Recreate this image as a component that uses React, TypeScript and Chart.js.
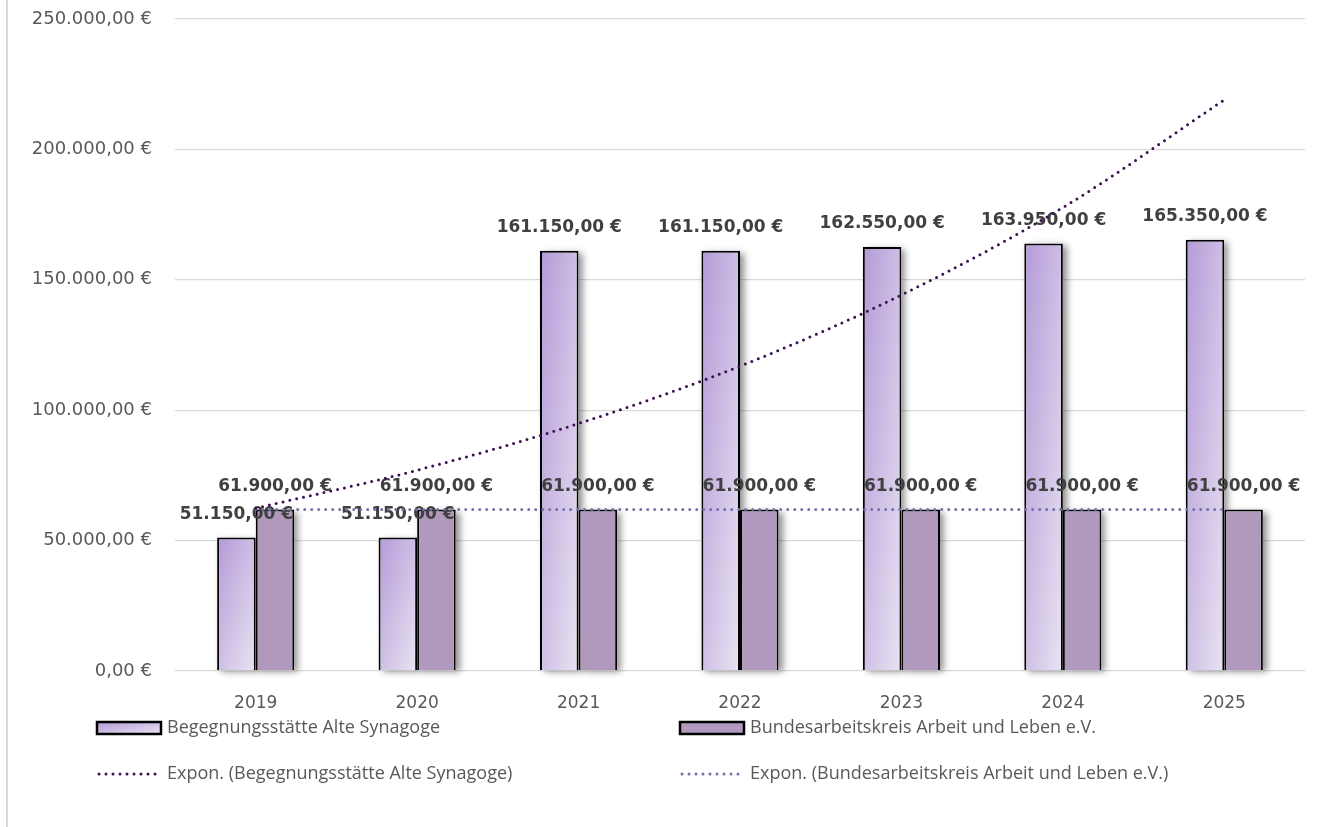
import React, { useEffect, useRef } from "react";
import { Chart, registerables } from "chart.js";

Chart.register(...registerables);

const categories = ["2019", "2020", "2021", "2022", "2023", "2024", "2025"];
const seriesBegegnung = [51150, 51150, 161150, 161150, 162550, 163950, 165350];
const seriesBundes = [61900, 61900, 61900, 61900, 61900, 61900, 61900];
// Exponential trend lines
const trendBegegnung = [62400, 77000, 94900, 116900, 144200, 177700, 219000];
const trendBundes = [61900, 61900, 61900, 61900, 61900, 61900, 61900];
const yMin = 0;
const yMax = 250000;
const yStep = 50000;

const labelBegegnung = "Begegnungsstätte Alte Synagoge";
const labelBundes = "Bundesarbeitskreis Arbeit und Leben e.V.";
const labelTrendBegegnung = "Expon. (Begegnungsstätte Alte Synagoge)";
const labelTrendBundes = "Expon. (Bundesarbeitskreis Arbeit und Leben e.V.)";

const W = 1317;
const H = 827;
const CAT_PCT = 0.478;

const GRAD_START = "#b39ad7";
const GRAD_END = "#e9e3f2";
const BAR2_COLOR = "#b199be";
const TREND1_COLOR = "#3c1053";
const TREND2_COLOR = "#7470ad";
const TEXT_COLOR = "#595959";
const LABEL_COLOR = "#404040";
const GRID_COLOR = "#d9d9d9";

function euro(v: number): string {
  const fixed = v.toFixed(2);
  const [i, d] = fixed.split(".");
  const withDots = i.replace(/\B(?=(\d{3})+(?!\d))/g, ".");
  return withDots + "," + d + " €";
}

function diagGradient(ctx: CanvasRenderingContext2D, left: number, top: number, w: number, h: number): any {
  const k = (2 * w * h) / (h * h + w * w || 1);
  const x1 = left + h * k;
  const y1 = top + w * k;
  if (![left, top, x1, y1].every((n) => Number.isFinite(n))) return GRAD_START;
  const g = ctx.createLinearGradient(left, top, x1, y1);
  g.addColorStop(0, GRAD_START);
  g.addColorStop(1, GRAD_END);
  return g;
}

const shadowPlugin = {
  id: "barShadow",
  beforeDatasetsDraw(chart: any) {
    const ctx = chart.ctx;
    chart.data.datasets.forEach((ds: any, di: number) => {
      if (ds.type !== "bar") return;
      const meta = chart.getDatasetMeta(di);
      meta.data.forEach((el: any) => {
        const left = el.x - el.width / 2;
        const top = Math.min(el.y, el.base);
        const h = Math.abs(el.base - el.y);
        ctx.save();
        ctx.shadowColor = "rgba(0,0,0,0.45)";
        ctx.shadowBlur = 7;
        ctx.shadowOffsetX = 4;
        ctx.shadowOffsetY = 2;
        ctx.fillStyle = "#ffffff";
        ctx.fillRect(left, top, el.width, h);
        ctx.restore();
      });
    });
  },
  afterDatasetDraw(chart: any, args: any) {
    if (args.index !== 0) return;
    const ctx = chart.ctx;
    ctx.save();
    ctx.font = "bold 17px 'DejaVu Sans'";
    ctx.fillStyle = LABEL_COLOR;
    ctx.textAlign = "center";
    ctx.textBaseline = "middle";
    chart.data.datasets.forEach((ds: any, di: number) => {
      if (ds.type !== "bar") return;
      const meta = chart.getDatasetMeta(di);
      meta.data.forEach((el: any, i: number) => {
        ctx.fillText(euro(ds.data[i]), el.x, el.y - 23);
      });
    });
    ctx.restore();
  },
};

const framePlugin = {
  id: "frameAndLegend",
  beforeDraw(chart: any) {
    const ctx = chart.ctx;
    ctx.save();
    ctx.strokeStyle = GRID_COLOR;
    ctx.lineWidth = 2;
    ctx.beginPath();
    ctx.moveTo(7, 0);
    ctx.lineTo(7, H);
    ctx.stroke();
    ctx.restore();
  },
  afterDraw(chart: any) {
    const ctx = chart.ctx;
    ctx.save();
    ctx.font = "18px 'Open Sans'";
    ctx.fillStyle = TEXT_COLOR;
    ctx.textBaseline = "middle";
    ctx.textAlign = "left";
    const row1 = 728;
    const row2 = 774;
    const col1 = 97;
    const col2 = 680;
    const symW = 64;
    const rects = [
      { x: col1, fill: diagGradient(ctx, col1, row1 - 6, symW, 12), text: labelBegegnung },
      { x: col2, fill: BAR2_COLOR, text: labelBundes },
    ];
    rects.forEach((r) => {
      ctx.fillStyle = r.fill as any;
      ctx.fillRect(r.x, row1 - 6, symW, 12);
      ctx.strokeStyle = "#000";
      ctx.lineWidth = 2.5;
      ctx.strokeRect(r.x, row1 - 6, symW, 12);
      ctx.fillStyle = TEXT_COLOR;
      ctx.fillText(r.text, r.x + symW + 6, row1);
    });
    const lines = [
      { x: col1, color: TREND1_COLOR, text: labelTrendBegegnung },
      { x: col2, color: TREND2_COLOR, text: labelTrendBundes },
    ];
    lines.forEach((l) => {
      ctx.strokeStyle = l.color;
      ctx.lineWidth = 3;
      ctx.lineCap = "round";
      ctx.setLineDash([0, 7]);
      ctx.beginPath();
      ctx.moveTo(l.x + 2, row2);
      ctx.lineTo(l.x + 61, row2);
      ctx.stroke();
      ctx.setLineDash([]);
      ctx.fillStyle = TEXT_COLOR;
      ctx.fillText(l.text, l.x + symW + 6, row2);
    });
    ctx.restore();
  },
};

export default function App() {
  const ref = useRef<HTMLCanvasElement | null>(null);

  useEffect(() => {
    if (!ref.current) return;
    const chart = new Chart(ref.current, {
      type: "bar",
      data: {
        labels: categories,
        datasets: [
          {
            type: "bar",
            label: labelBegegnung,
            data: seriesBegegnung,
            order: 1,
            borderColor: "#000000",
            borderWidth: 2,
            categoryPercentage: CAT_PCT,
            barPercentage: 1,
            backgroundColor: (c: any) => {
              if (c.type !== "data") return GRAD_START;
              const chart = c.chart;
              const xs = chart.scales && chart.scales.x;
              const ys = chart.scales && chart.scales.y;
              if (!xs || !ys || !(xs.width > 0)) return GRAD_START;
              const cw = xs.width / categories.length;
              const bw = (cw * CAT_PCT) / 2;
              const cx = xs.getPixelForValue(c.dataIndex);
              const left = cx - bw;
              const top = ys.getPixelForValue(c.raw);
              const bottom = ys.getPixelForValue(0);
              return diagGradient(chart.ctx, left, top, bw, Math.max(1, bottom - top));
            },
          } as any,
          {
            type: "bar",
            label: labelBundes,
            data: seriesBundes,
            order: 1,
            borderColor: "#000000",
            borderWidth: 2,
            categoryPercentage: CAT_PCT,
            barPercentage: 1,
            backgroundColor: BAR2_COLOR,
          } as any,
          {
            type: "line",
            label: labelTrendBegegnung,
            data: trendBegegnung,
            order: 0,
            borderColor: TREND1_COLOR,
            borderWidth: 3,
            borderDash: [0, 7],
            borderCapStyle: "round",
            pointRadius: 0,
            fill: false,
            cubicInterpolationMode: "monotone",
          } as any,
          {
            type: "line",
            label: labelTrendBundes,
            data: trendBundes,
            order: 0,
            borderColor: TREND2_COLOR,
            borderWidth: 3,
            borderDash: [0, 7],
            borderCapStyle: "round",
            pointRadius: 0,
            fill: false,
          } as any,
        ],
      },
      options: {
        responsive: false,
        animation: false,
        layout: { padding: { top: 19, right: 12, left: 0, bottom: 0 } },
        plugins: {
          legend: { display: false },
          tooltip: { enabled: false },
          title: { display: false },
        },
        scales: {
          x: {
            grid: { display: false, drawTicks: false },
            border: { display: false },
            ticks: {
              color: TEXT_COLOR,
              font: { family: "'DejaVu Sans'", size: 17 },
              padding: 22,
              maxRotation: 0,
            },
            afterFit: (s: any) => {
              s.height = H - 671;
            },
          },
          y: {
            min: yMin,
            max: yMax,
            grid: { color: GRID_COLOR, lineWidth: 1.3, drawTicks: false },
            border: { display: false },
            ticks: {
              stepSize: yStep,
              color: TEXT_COLOR,
              font: { family: "'DejaVu Sans'", size: 18 },
              padding: 23,
              callback: (v: any) => euro(Number(v)),
            },
            afterFit: (s: any) => {
              s.width = 175;
              s.paddingTop = 0;
              s.paddingBottom = 0;
            },
          },
        },
      },
      plugins: [shadowPlugin, framePlugin],
    });
    return () => chart.destroy();
  }, []);

  return (
    <div style={{ position: "absolute", left: 0, top: 0, width: W, height: H, background: "#fff" }}>
      <canvas ref={ref} width={W} height={H} style={{ display: "block" }} />
    </div>
  );
}
